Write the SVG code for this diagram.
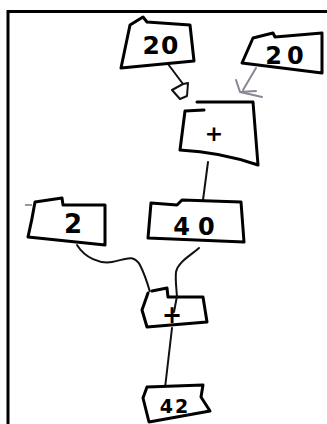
<svg xmlns="http://www.w3.org/2000/svg" width="327" height="424" viewBox="0 0 327 424">
<style>
.box{fill:#fff;stroke:#000;stroke-width:3;stroke-linejoin:round;stroke-linecap:round}
.edge{fill:none;stroke:#111;stroke-width:2;stroke-linecap:round;stroke-linejoin:round}
.faint{fill:none;stroke:#8a8497;stroke-width:2;stroke-linecap:round;stroke-linejoin:round}
.lbl{font-family:"DejaVu Sans","Liberation Sans",sans-serif;font-weight:bold;fill:#000;text-anchor:middle}
</style>
<rect width="327" height="424" fill="#fff"/>
<path d="M8,424 V11.5 H327" fill="none" stroke="#000" stroke-width="3"/>
<g id="connectors">
<path class="edge" d="M168,64 L183,84"/>
<path class="edge" d="M183,84 L172,90 L180,99 L187,96 L188,83 Z"/>
<path class="faint" d="M256,68 L243,90"/>
<path class="faint" d="M236,80 L240,92 L262,97 M240,92 L256,91"/>
<path class="edge" d="M208,162 L203,200"/>
<path class="edge" d="M77,245 C85,258 100,264 112,262 C125,260 133,253 140,265 C145,275 148,285 150,292"/>
<path class="edge" d="M199,248 C190,256 178,262 176,272 C175,282 177,290 177,300"/>
<path class="edge" d="M172,328 L165,388"/>
<path d="M25,205 L32,205" stroke="#777" stroke-width="1.5" fill="none"/>
</g>
<g id="n20a">
<path class="box" d="M130,25 L143,17 L147,22 L190,25 L194,61 L121,68 Z"/>
<text class="lbl" x="161" y="54" font-size="25" letter-spacing="1">20</text>
</g>
<g id="n20b">
<path class="box" d="M253,38 L273,33 L275,37 L322,33 L322,73 L242,63 Z"/>
<text class="lbl" x="287" y="64" font-size="24" letter-spacing="5">20</text>
</g>
<g id="nplus1">
<path class="box" d="M197,102 L253,102 L258,165 Q220,152 180,150 L185,111 L204,110"/>
<text class="lbl" x="214" y="141" font-size="22">+</text>
</g>
<g id="n2">
<path class="box" d="M35,202 L62,198 L63,205 L105,205 L105,245 L28,237 Q32,220 35,202 Z"/>
<text class="lbl" x="73" y="233" font-size="26">2</text>
</g>
<g id="n40">
<path class="box" d="M151,203 L177,205 L182,200 L241,202 L244,242 L148,238 Z"/>
<text class="lbl" x="198" y="235" font-size="24" letter-spacing="8">40</text>
</g>
<g id="nplus2">
<path class="box" d="M152,291 L167,288 L168,297 L203,297 L207,322 L147,327 L142,310 L148,293"/>
<path class="edge" d="M177,296 L174,312"/>
<text class="lbl" x="172" y="323" font-size="24">+</text>
</g>
<g id="n42">
<path class="box" d="M147,387 L203,385 L201,397 L210,411 L149,422 L143,398 Z"/>
<text class="lbl" x="175" y="413" font-size="19" letter-spacing="2">42</text>
</g>
</svg>
